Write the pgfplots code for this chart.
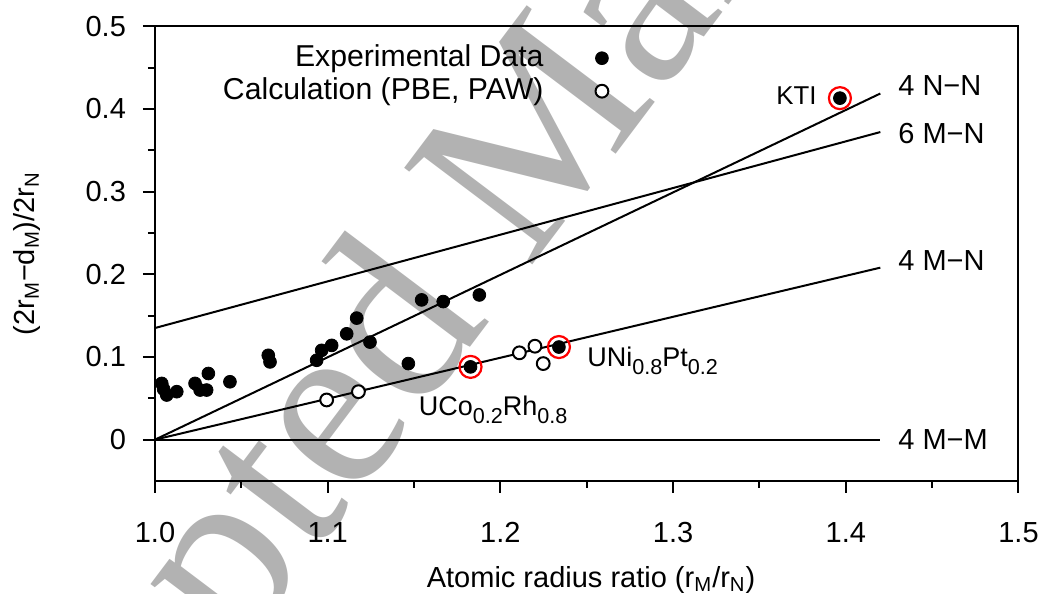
\documentclass[border=0pt]{standalone}
\usepackage{fontspec}
\setmainfont{Liberation Sans}
\newfontfamily\wmfont{Liberation Serif}
\usepackage{pgfplots}
\pgfplotsset{compat=1.18}

\newcommand{\bigtxt}{\fontsize{14.5}{17}\selectfont}
\newcommand{\keytxt}{\fontsize{15.1}{18}\selectfont}
\newcommand{\midtxt}{\fontsize{13.5}{16}\selectfont}
\newcommand{\kttxt}{\fontsize{12.9}{15}\selectfont}
% subscript for the compound labels
\newcommand{\lsub}[1]{\raisebox{-0.3em}{\fontsize{10.8}{12}\selectfont #1}}

\begin{document}
\begin{tikzpicture}
% watermark behind the plot
\node[anchor=base west, rotate=53, inner sep=0, text=black!30,
      font=\wmfont\fontsize{122.5}{122.5}\selectfont]
      at (-110.15pt,-288.7pt) {Accepted Manuscript};

\begin{axis}[
  scale only axis, width=431.75pt, height=227.4pt,
  xmin=1.0, xmax=1.5, ymin=-0.05, ymax=0.5,
  xtick={1.0,1.1,...,1.5}, ytick={0,0.1,0.2,0.3,0.4,0.5},
  minor x tick num=1, minor y tick num=1,
  xtick pos=left, ytick pos=left,
  tick align=outside,
  major tick length=6pt, minor tick length=3.5pt,
  axis line style={line width=1pt},
  every tick/.style={line width=1pt, black},
  /pgf/number format/assume math mode=true,
  tick label style={font=\bigtxt},
  xticklabel style={/pgf/number format/fixed, /pgf/number format/fixed zerofill,
                    /pgf/number format/precision=1, yshift=-11pt},
  yticklabel style={xshift=-5pt},
  xlabel={Atomic radius ratio (r\textsubscript{M}/r\textsubscript{N})},
  ylabel={(2r\textsubscript{M}−d\textsubscript{M})/2r\textsubscript{N}},
  label style={font=\bigtxt},
  xlabel style={at={(rel axis cs:0.505,-0.2177)}, anchor=center},
  ylabel style={at={(rel axis cs:-0.1482,0.5)}, anchor=center},
  clip=false,
]
% model lines
\addplot[black, line width=1pt] coordinates {(1.0,0) (1.42,0)};
\addplot[black, line width=1pt] coordinates {(1.0,0) (1.42,0.208)};
\addplot[black, line width=1pt] coordinates {(1.0,0) (1.42,0.4186)};
\addplot[black, line width=1pt] coordinates {(1.0,0.135) (1.42,0.372)};

% experimental data
\addplot[only marks, mark=*, mark size=3.2pt, black] coordinates {
  (1.0039,0.068) (1.0050,0.061) (1.0068,0.054) (1.0126,0.058)
  (1.0232,0.068) (1.0261,0.060) (1.0309,0.080) (1.0299,0.060)
  (1.0434,0.070) (1.0656,0.102) (1.0666,0.094) (1.0936,0.096)
  (1.0965,0.108) (1.1023,0.114) (1.1110,0.128) (1.1168,0.147)
  (1.1245,0.118) (1.1467,0.092) (1.1544,0.169) (1.1669,0.167)
  (1.1878,0.175) (1.1827,0.088) (1.2339,0.112) (1.3966,0.413)
};
% calculations
\addplot[only marks, mark=*, mark size=3.2pt, mark options={fill=white, draw=black, line width=1pt}] coordinates {
  (1.0994,0.048) (1.1178,0.058) (1.2110,0.105) (1.2200,0.113) (1.2248,0.092)
};
% highlighted compounds
\addplot[only marks, mark=o, mark size=5.5pt, mark options={draw=red, line width=1.1pt}] coordinates {
  (1.1827,0.088) (1.2339,0.112) (1.3966,0.413)
};

% key
\addplot[only marks, mark=*, mark size=3.2pt, black] coordinates {(1.2588,0.4613)};
\addplot[only marks, mark=*, mark size=3.2pt, mark options={fill=white, draw=black, line width=1pt}] coordinates {(1.2588,0.4214)};
\node[anchor=east, inner sep=0, font=\keytxt] at (axis cs:1.2252,0.4613) {Experimental Data};
\node[anchor=east, inner sep=0, font=\keytxt] at (axis cs:1.2252,0.4214) {Calculation (PBE, PAW)};

% line labels
\node[anchor=west, inner sep=0, font=\bigtxt] at (axis cs:1.4302,0.4287) {4 N−N};
\node[anchor=west, inner sep=0, font=\bigtxt] at (axis cs:1.4302,0.3706) {6 M−N};
\node[anchor=west, inner sep=0, font=\bigtxt] at (axis cs:1.4302,0.2171) {4 M−N};
\node[anchor=west, inner sep=0, font=\bigtxt] at (axis cs:1.4302,0.0) {4 M−M};

% compound labels
\node[anchor=east, inner sep=0, font=\kttxt] at (axis cs:1.3833,0.4166) {KTI};
\node[anchor=base west, inner sep=0, font=\midtxt] at (axis cs:1.2501,0.0883) {UNi\lsub{0.8}Pt\lsub{0.2}};
\node[anchor=base west, inner sep=0, font=\midtxt] at (axis cs:1.1525,0.0296) {UCo\lsub{0.2}Rh\lsub{0.8}};
\end{axis}
\pgfresetboundingbox
\useasboundingbox (-77.5pt,-56.5pt) rectangle (443pt,240.5pt);
\end{tikzpicture}
\end{document}
